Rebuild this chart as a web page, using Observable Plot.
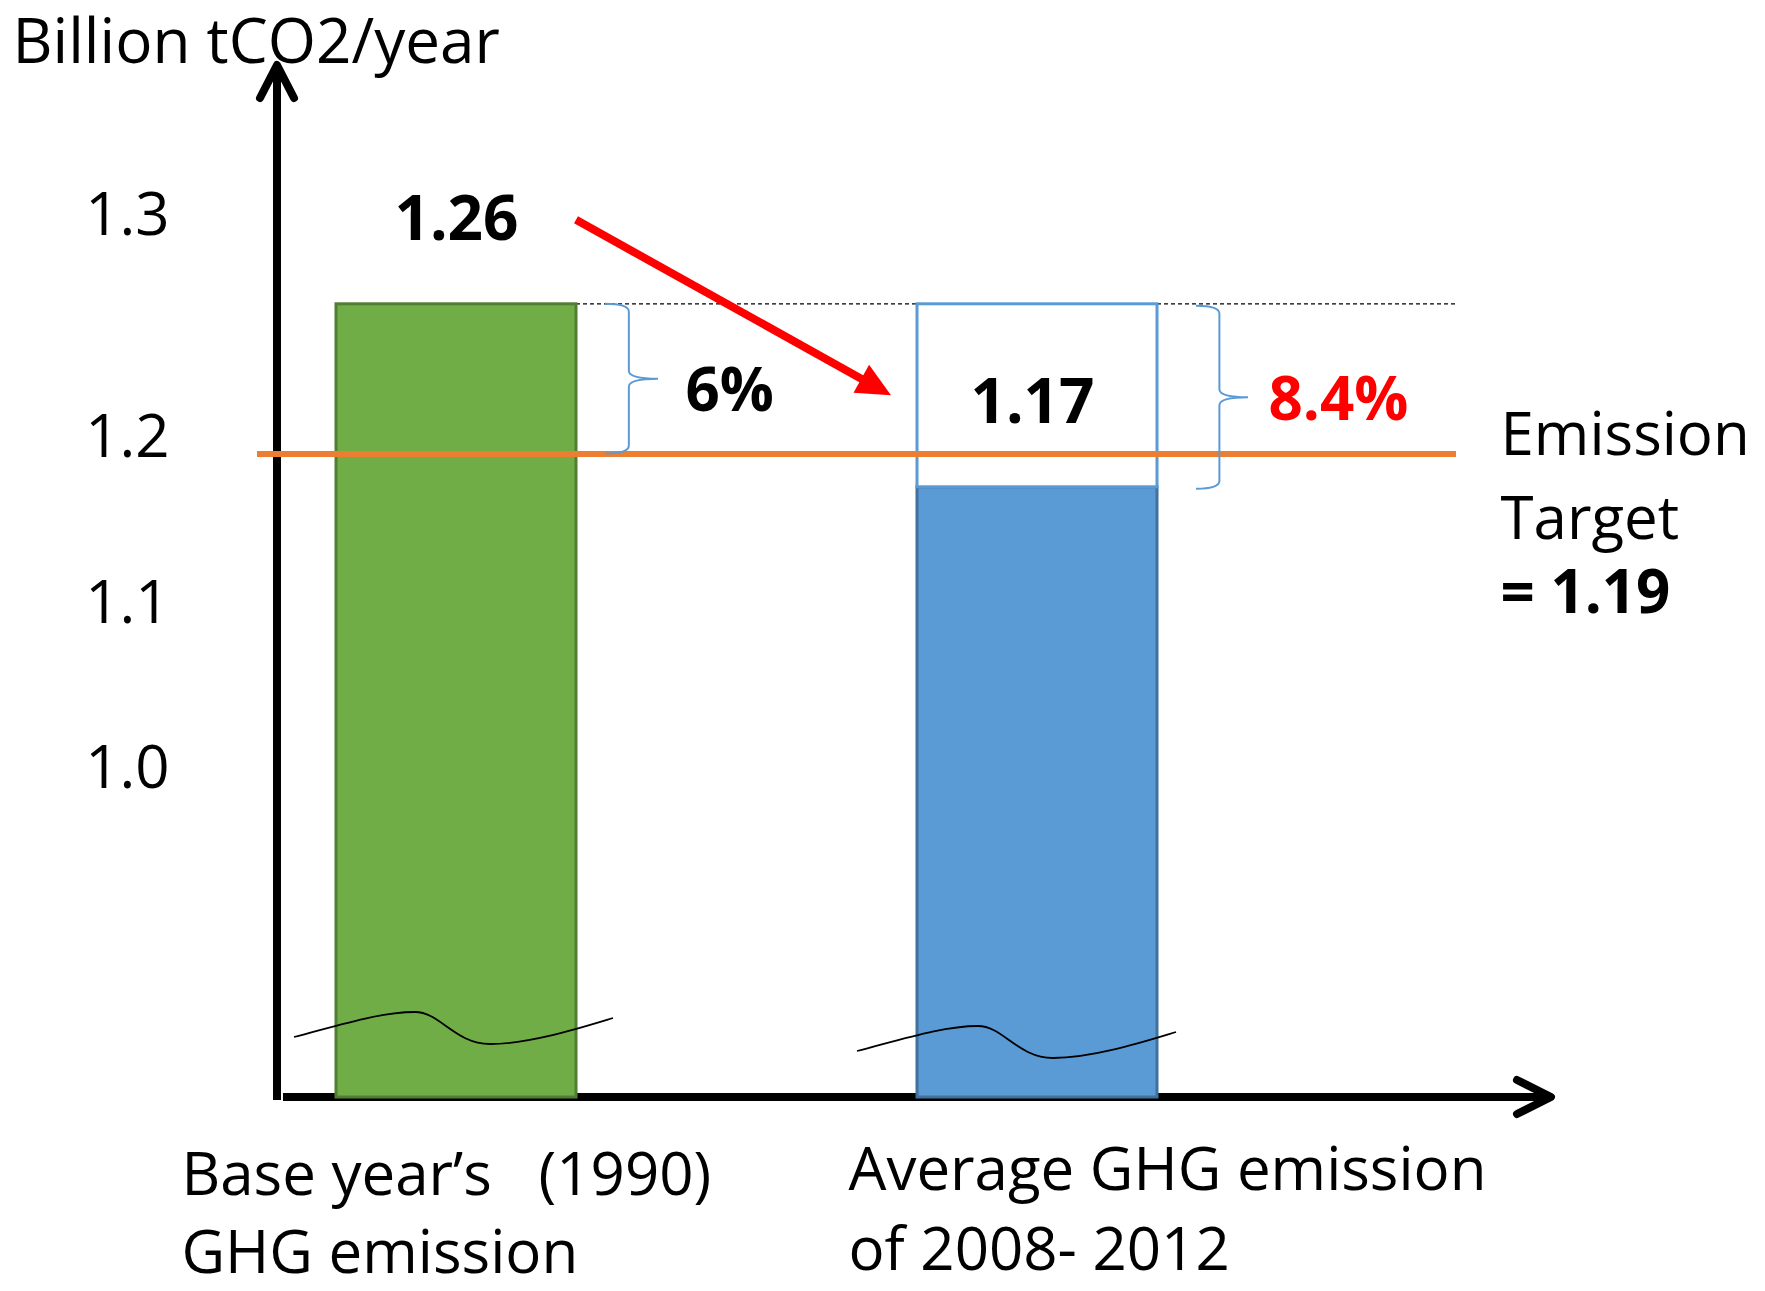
<!DOCTYPE html>
<html><head><meta charset="utf-8">
<script src="https://cdn.jsdelivr.net/npm/d3@7"></script>
<script src="https://cdn.jsdelivr.net/npm/@observablehq/plot@0.6"></script>
<style>
html,body{margin:0;padding:0;background:#fff;}
svg text{white-space:pre;}
</style></head><body><div id="chart"></div>
<script>
// ---- data ----
const categories = ["Base year’s   (1990)\nGHG emission", "Average GHG emission\nof 2008- 2012"];
const emissions = [1.26, 1.17];
const valueLabels = ["1.26", "1.17"];
const target = 1.19;
const reductionLabels = ["6%", "8.4%"];
const targetLabels = ["Emission\nTarget", "= 1.19"];
const yTicks = [1.0, 1.1, 1.2, 1.3];
const yLabel = "Billion tCO2/year";

const bars = categories.map((c, i) => ({cat: c, value: emissions[i], label: valueLabels[i]}));
const gapBox = [{cat: categories[1], y1: emissions[1], y2: emissions[0]}];
const reductions = [
  {cat: categories[0], lo: target, hi: emissions[0], label: reductionLabels[0]},
  {cat: categories[1], lo: emissions[1], hi: emissions[0], label: reductionLabels[1]}
];

const PAD = 0.5876;
const FONT = "'Open Sans', sans-serif";

function bw(x) {
  if (typeof x.bandwidth === "function") return x.bandwidth();
  if (typeof x.bandwidth === "number") return x.bandwidth;
  return (x(categories[1]) - x(categories[0])) * (1 - PAD);
}

// axes with arrowheads + dashed reference line (drawn beneath bars)
function axesMark(index, {x, y}, values, dims) {
  const g = d3.create("svg:g").attr("fill", "none");
  const y0 = y(0);
  const ax = dims.marginLeft + 20;
  const yTip = y(yTicks[yTicks.length - 1]) - 150;
  const xTip = dims.width - dims.marginRight + 95;
  const a = g.append("g").attr("stroke", "#000").attr("stroke-width", 8)
    .attr("stroke-linecap", "round").attr("stroke-linejoin", "round");
  a.append("line").attr("x1", ax).attr("x2", ax).attr("y1", y0 + 3).attr("y2", yTip + 6).attr("stroke-linecap", "butt");
  a.append("path").attr("d", `M${ax - 17},${yTip + 33}L${ax},${yTip}L${ax + 17},${yTip + 33}`);
  a.append("line").attr("x1", ax + 6).attr("x2", xTip - 6).attr("y1", y0).attr("y2", y0).attr("stroke-linecap", "butt");
  a.append("path").attr("d", `M${xTip - 34},${y0 - 17}L${xTip},${y0}L${xTip - 34},${y0 + 17}`);
  const xB = x(categories[0]);
  g.append("line").attr("x1", xB + bw(x)).attr("x2", dims.width - dims.marginRight)
    .attr("y1", y(emissions[0])).attr("y2", y(emissions[0]))
    .attr("stroke", "#000").attr("stroke-width", 1.2).attr("stroke-dasharray", "4,3");
  return g.node();
}

function bracePath(x0, ya, yb, w) {
  const xm = x0 + w * 0.45, mid = (ya + yb) / 2, r = 8;
  return `M${x0},${ya}Q${xm},${ya} ${xm},${ya + r}L${xm},${mid - r}Q${xm},${mid} ${x0 + w},${mid}` +
         `Q${xm},${mid} ${xm},${mid + r}L${xm},${yb - r}Q${xm},${yb} ${x0},${yb}`;
}

// braces, break waves, red arrow (drawn over bars)
function annotationMark(index, {x, y}, values, dims) {
  const g = d3.create("svg:g").attr("fill", "none");
  const w = bw(x);
  const xB = x(categories[0]), xA = x(categories[1]);
  const yTop = y(emissions[0]), yAvg = y(emissions[1]), yT = y(target), y0 = y(0);
  // braces
  g.append("path").attr("d", bracePath(xB + w + 29, yTop, yT, 53))
    .attr("stroke", "#5b9bd5").attr("stroke-width", 2);
  g.append("path").attr("d", bracePath(xA + w + 39, yTop + 2, yAvg + 2, 52))
    .attr("stroke", "#5b9bd5").attr("stroke-width", 2);
  // axis-break waves
  const wave = "M-42,-60C4,-72 44,-85 79,-85C104,-85 119,-53 154,-53C194,-53 244,-69 277,-79";
  const shifts = [[0, 0], [-18, 14]];
  categories.forEach((c, i) => {
    g.append("path").attr("d", wave)
      .attr("transform", `translate(${x(c) + shifts[i][0]},${y0 + shifts[i][1]})`)
      .attr("stroke", "#000").attr("stroke-width", 1.8);
  });
  // red arrow
  const x1 = xB + w, y1 = yTop - 84;
  const x2 = xA - 26, y2 = (yTop + yAvg) / 2;
  const dx = x2 - x1, dy = y2 - y1, L = Math.hypot(dx, dy);
  const ux = dx / L, uy = dy / L, px = -uy, py = ux;
  const hl = 34, hw = 16;
  const bx = x2 - hl * ux, by = y2 - hl * uy;
  g.append("line").attr("x1", x1).attr("y1", y1).attr("x2", bx + 2 * ux).attr("y2", by + 2 * uy)
    .attr("stroke", "#ff0000").attr("stroke-width", 8);
  g.append("path").attr("d", `M${x2},${y2}L${bx + hw * px},${by + hw * py}L${bx - hw * px},${by - hw * py}Z`)
    .attr("fill", "#ff0000");
  return g.node();
}

const chart = Plot.plot({
  width: 1765,
  height: 1291,
  marginLeft: 257,
  marginRight: 309,
  marginTop: 0,
  marginBottom: 0,
  style: {fontFamily: FONT, fontSize: "60px", color: "#000", background: "#fff", overflow: "visible"},
  x: {type: "band", domain: categories, range: [335, 1157], paddingInner: PAD, paddingOuter: 0, axis: null},
  y: {type: "linear", domain: [0, 1.0, 1.1, 1.2, 1.3], range: [1097, 768, 603, 437, 215]},
  marks: [
    axesMark,
    Plot.axisY({ticks: yTicks, tickFormat: d3.format(".1f"), tickSize: 0, tickPadding: 88, fontSize: 60, label: null, anchor: "left", fill: "#000"}),
    Plot.barY(bars.slice(0, 1), {x: "cat", y: "value", fill: "#70ad47", stroke: "#507e32", strokeWidth: 3}),
    Plot.barY(bars.slice(1), {x: "cat", y: "value", fill: "#5b9bd5", stroke: "#41719c", strokeWidth: 3}),
    Plot.barY(gapBox, {x: "cat", y1: "y1", y2: "y2", fill: "#fff", stroke: "#5b9bd5", strokeWidth: 3}),
    Plot.ruleY([target], {stroke: "#ed7d31", strokeWidth: 6}),
    annotationMark,
    // y label
    Plot.text([yLabel], {frameAnchor: "top-left", dx: -245, dy: 18, textAnchor: "start", lineAnchor: "top", fontSize: 62, fill: "#000"}),
    // value labels
    Plot.text(bars.slice(0, 1), {x: "cat", y: "value", text: "label", dy: -84, fontSize: 62, fontWeight: 700, fill: "#000"}),
    Plot.text(bars.slice(1), {x: "cat", y: () => emissions[0], text: "label", dx: -5, dy: 99, fontSize: 62, fontWeight: 700, fill: "#000"}),
    // reduction percentages
    Plot.text(reductions.slice(0, 1), {x: "cat", y: d => (d.lo + d.hi) / 2, text: "label", dx: 229, dy: 10, textAnchor: "start", fontSize: 60, fontWeight: 700, fill: "#000"}),
    Plot.text(reductions.slice(1), {x: "cat", y: d => (d.lo + d.hi) / 2, text: "label", dx: 231, dy: -3, textAnchor: "start", fontSize: 60, fontWeight: 700, fill: "#ff0000"}),
    // target labels
    Plot.text([targetLabels[0]], {frameAnchor: "right", y: () => target, dx: 44, dy: 16, textAnchor: "start", lineAnchor: "middle", lineHeight: 1.4, fontSize: 60, fill: "#000"}),
    Plot.text([targetLabels[1]], {frameAnchor: "right", y: () => target, dx: 44, dy: 140, textAnchor: "start", fontSize: 60, fontWeight: 700, fill: "#000"}),
    // category labels
    Plot.text([categories[0]], {x: d => d, y: () => 0, dx: -275, dy: 112, textAnchor: "start", lineAnchor: "middle", lineHeight: 1.3, fontSize: 60, fill: "#000"}),
    Plot.text([categories[1]], {x: d => d, y: () => 0, dx: -189, dy: 107, textAnchor: "start", lineAnchor: "middle", lineHeight: 1.33, fontSize: 60, fill: "#000"})
  ]
});
document.getElementById("chart").appendChild(chart);
</script>
</body></html>
